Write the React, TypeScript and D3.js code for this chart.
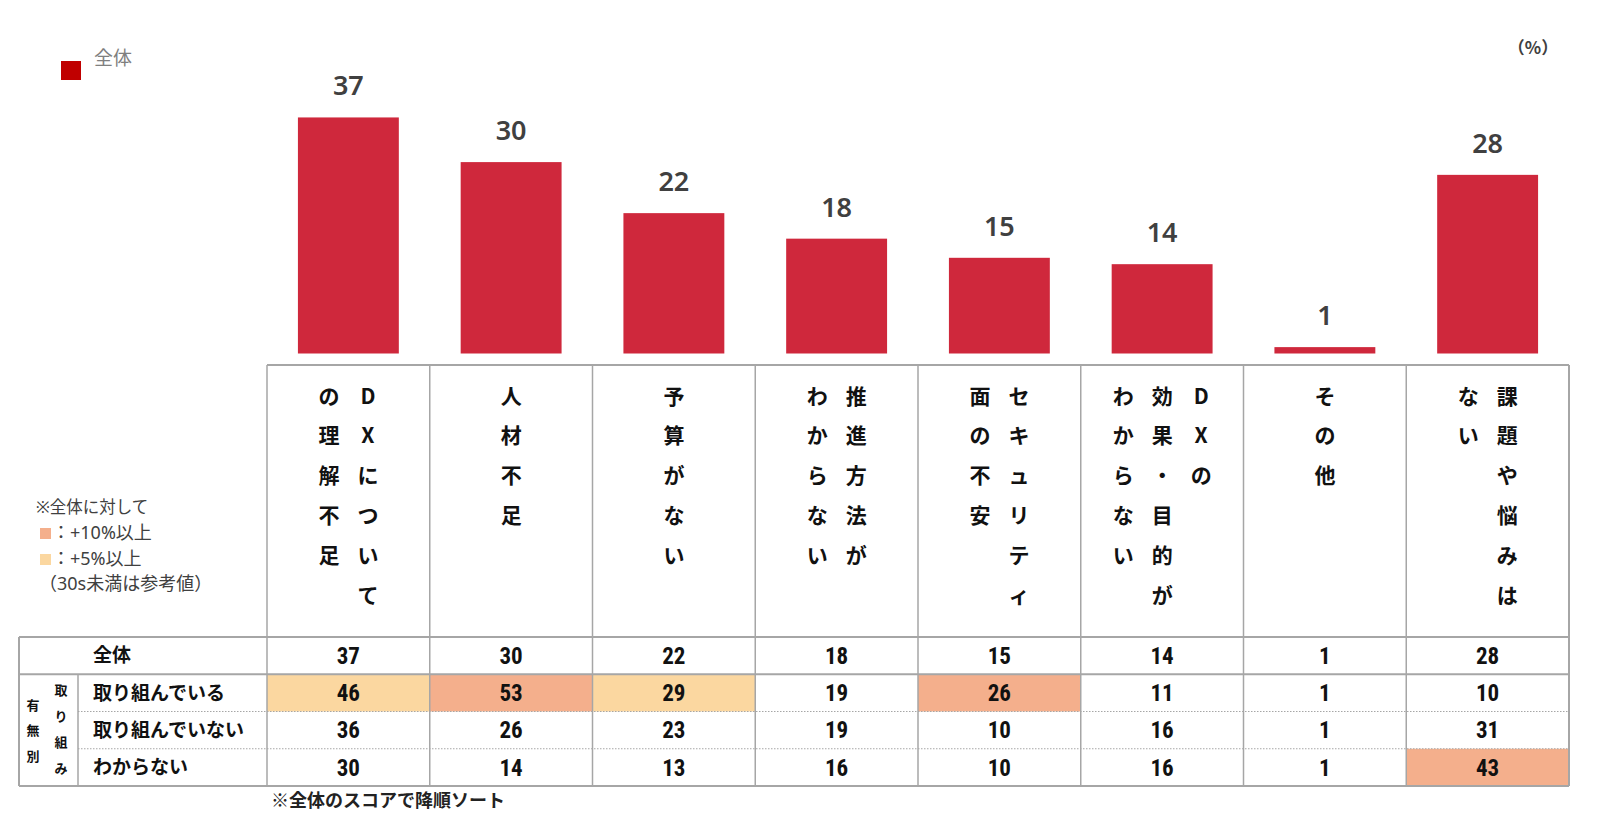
import React from "react";
import * as d3 from "d3";

// categories as vertical header lines (right-most line first, as read)
const categories = [
  "DXについての理解不足",
  "人材不足",
  "予算がない",
  "推進方法がわからない",
  "セキュリティ面の不安",
  "DXの効果・目的がわからない",
  "その他",
  "課題や悩みはない",
];
const headerLines = [
  ["DXについて", "の理解不足"],
  ["人材不足"],
  ["予算がない"],
  ["推進方法が", "わからない"],
  ["セキュリティ", "面の不安"],
  ["DXの", "効果・目的が", "わからない"],
  ["その他"],
  ["課題や悩みは", "ない"],
];

const totalValues = [37, 30, 22, 18, 15, 14, 1, 28];
const rowLabels = ["取り組んでいる", "取り組んでいない", "わからない"];
const doingValues = [46, 53, 29, 19, 26, 11, 1, 10];
const notDoingValues = [36, 26, 23, 19, 10, 16, 1, 31];
const unknownValues = [30, 14, 13, 16, 10, 16, 1, 43];
const subRows = [doingValues, notDoingValues, unknownValues];

const notes = ["※全体に対して", "：+10%以上", "：+5%以上", "（30s未満は参考値）"];

const W = 1600;
const H = 818;
const JP = "'Noto Sans CJK JP', 'Noto Sans', sans-serif";
const MIX = "'Noto Sans', 'Noto Sans CJK JP', sans-serif";
const NUM = "'Liberation Sans Narrow', 'Roboto Condensed', 'Liberation Sans', sans-serif";
const BAR = "#CF283C";
const HI10 = "#F4AF8C";
const HI5 = "#FBD7A0";
const GRID = "#A6A6A6";

const highlight = (v, base) => (v - base >= 10 ? HI10 : v - base >= 5 ? HI5 : null);

export default function App() {
  const x = d3.scaleBand().domain(categories).range([267, 1569]).paddingInner(0);
  const xBar = d3.scaleBand().domain(categories).range([267, 1569]).paddingInner(0.38).paddingOuter(0.19);
  const y = d3.scaleLinear().domain([0, 40]).range([353.5, 98.3]);

  const headTop = 365;
  const headBottom = 637;
  const rowY = d3.scaleLinear().domain([0, 4]).range([headBottom, 786]);
  const tableLeft = 19;
  const innerLine = 78;
  const right = x.range()[1];

  return (
    <svg width={W} height={H} style={{ position: "absolute", left: 0, top: 0 }} fontFamily={JP}>
      <rect width={W} height={H} fill="#fff" />

      {/* legend */}
      <rect x={61} y={61} width={20} height={19} fill="#C00000" />
      <text x={94} y={65} fontSize={19} fill="#7F7F7F">全体</text>
      <text x={1533} y={54} fontSize={17} fill="#404040" textAnchor="middle" fontWeight={600}>（%）</text>

      {/* bars */}
      {categories.map((c, i) => (
        <g key={c}>
          <rect
            x={xBar(c)}
            y={y(totalValues[i])}
            width={xBar.bandwidth()}
            height={y(0) - y(totalValues[i])}
            fill={BAR}
          />
          <text
            x={xBar(c) + xBar.bandwidth() / 2}
            y={y(totalValues[i]) - 22}
            textAnchor="middle"
            fontFamily="'Noto Sans', sans-serif"
            fontWeight={600}
            fontSize={27}
            fill="#404040"
          >
            {totalValues[i]}
          </text>
        </g>
      ))}

      {/* notes */}
      <g fontFamily={MIX} fontSize={18} fill="#404040">
        <text x={36} y={507} dy="0.36em" fontSize={16.5}>{notes[0]}</text>
        <rect x={40} y={528} width={11} height={11} fill={HI10} />
        <text x={52} y={533} dy="0.36em">{notes[1]}</text>
        <rect x={40} y={554} width={11} height={11} fill={HI5} />
        <text x={52} y={559} dy="0.36em">{notes[2]}</text>
        <text x={39} y={584} dy="0.36em">{notes[3]}</text>
      </g>

      {/* highlighted cells */}
      {subRows.map((row, r) =>
        row.map((v, i) => {
          const col = highlight(v, totalValues[i]);
          return col ? (
            <rect key={`h${r}-${i}`} x={x(categories[i])} y={rowY(r + 1)} width={x.bandwidth()} height={rowY(r + 2) - rowY(r + 1)} fill={col} />
          ) : null;
        })
      )}

      {/* header vertical text */}
      {headerLines.map((lines, i) => {
        const cx = x(categories[i]) + x.bandwidth() / 2;
        const n = lines.length;
        return lines.map((line, li) => {
          const lx = cx + ((n - 1) / 2 - li) * 39;
          return Array.from(line).map((ch, k) => (
            <text
              key={`${i}-${li}-${k}`}
              x={lx}
              y={396 + k * 39.8}
              dy="0.36em"
              textAnchor="middle"
              fontSize={21}
              fontWeight={600}
              fill="#111"
            >
              {ch}
            </text>
          ));
        });
      })}

      {/* table lines */}
      <g stroke={GRID} fill="none">
        <line x1={267} x2={right} y1={headTop} y2={headTop} strokeWidth={2} />
        <line x1={tableLeft} x2={right} y1={headBottom} y2={headBottom} strokeWidth={2} />
        <line x1={tableLeft} x2={right} y1={rowY(1)} y2={rowY(1)} strokeWidth={2} />
        <line x1={innerLine} x2={right} y1={rowY(2)} y2={rowY(2)} strokeWidth={1} strokeDasharray="1.5 1.5" />
        <line x1={innerLine} x2={right} y1={rowY(3)} y2={rowY(3)} strokeWidth={1} strokeDasharray="1.5 1.5" />
        <line x1={tableLeft} x2={right} y1={rowY(4)} y2={rowY(4)} strokeWidth={2} />
        <line x1={tableLeft} x2={tableLeft} y1={headBottom} y2={rowY(4)} strokeWidth={2} />
        <line x1={innerLine} x2={innerLine} y1={rowY(1)} y2={rowY(4)} strokeWidth={1.5} />
        {categories.map((c) => (
          <line key={c} x1={x(c)} x2={x(c)} y1={headTop} y2={rowY(4)} strokeWidth={1.5} />
        ))}
        <line x1={right} x2={right} y1={headTop} y2={rowY(4)} strokeWidth={2} />
      </g>

      {/* row labels */}
      <text x={93} y={(rowY(0) + rowY(1)) / 2} dy="0.36em" fontSize={19} fontWeight={700} fill="#111">全体</text>
      {rowLabels.map((l, r) => (
        <text key={l} x={93} y={(rowY(r + 1) + rowY(r + 2)) / 2} dy="0.36em" fontSize={19} fontWeight={700} fill="#111">
          {l}
        </text>
      ))}
      {Array.from("有無別").map((ch, k) => (
        <text key={`a${k}`} x={33} y={705 + k * 25.5} dy="0.36em" textAnchor="middle" fontSize={13} fontWeight={700} fill="#111">{ch}</text>
      ))}
      {Array.from("取り組み").map((ch, k) => (
        <text key={`b${k}`} x={61} y={690 + k * 26} dy="0.36em" textAnchor="middle" fontSize={13} fontWeight={700} fill="#111">{ch}</text>
      ))}

      {/* values */}
      {[totalValues, ...subRows].map((row, r) =>
        row.map((v, i) => (
          <text
            key={`v${r}-${i}`}
            x={x(categories[i]) + x.bandwidth() / 2}
            y={(rowY(r) + rowY(r + 1)) / 2}
            dy="0.36em"
            textAnchor="middle"
            fontFamily={NUM}
            fontWeight={700}
            fontSize={23}
            fill="#111"
          >
            {v}
          </text>
        ))
      )}

      <text x={271} y={801} dy="0.36em" fontSize={18} fontWeight={700} fill="#222">※全体のスコアで降順ソート</text>
    </svg>
  );
}
